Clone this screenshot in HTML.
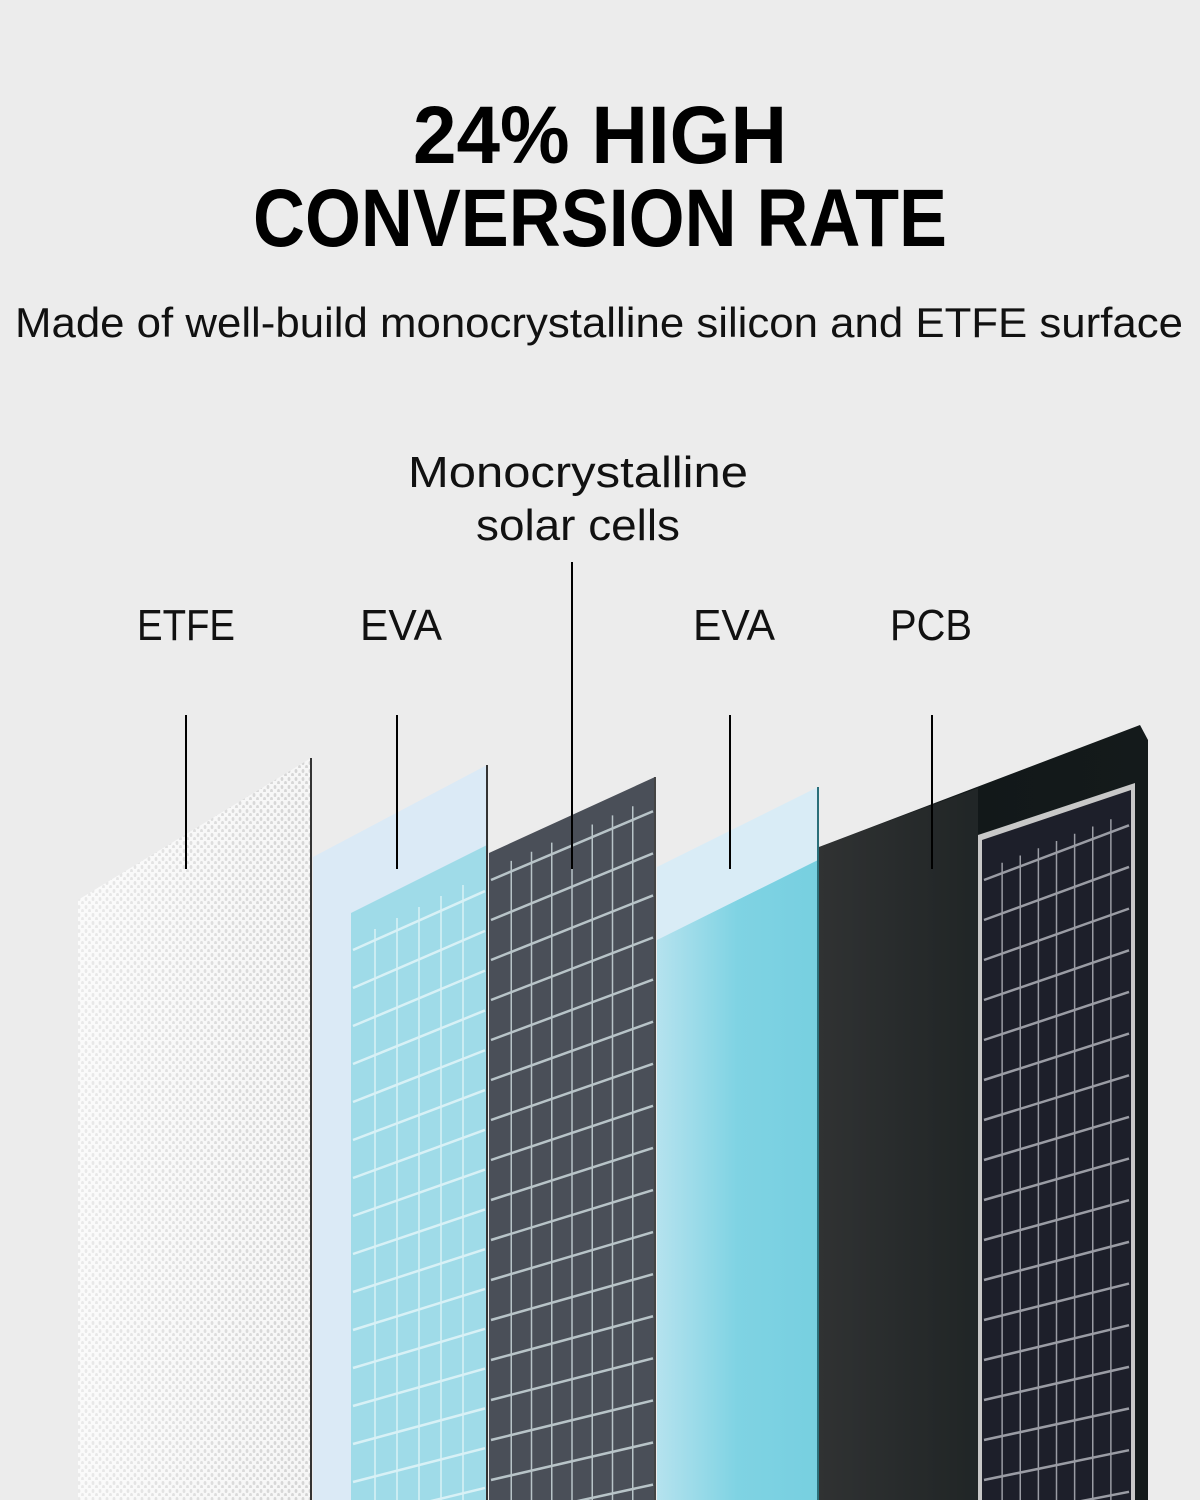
<!DOCTYPE html>
<html><head><meta charset="utf-8"><style>
html,body{margin:0;padding:0;background:#ececec;}
svg{display:block;}
</style></head><body>
<svg id="s" width="1200" height="1500" viewBox="0 0 1200 1500" xmlns="http://www.w3.org/2000/svg">
<defs>
<pattern id="dots" width="7" height="8" patternUnits="userSpaceOnUse">
<rect width="7" height="8" fill="#f6f6f6"/>
<ellipse cx="2" cy="3" rx="1.4" ry="2" fill="#d4d4d4"/>
<ellipse cx="5.5" cy="7" rx="1.4" ry="2" fill="#d4d4d4"/>
</pattern>
<linearGradient id="eva2" x1="0" x2="1" y1="0" y2="0">
<stop offset="0" stop-color="#b5e2ee"/><stop offset="0.5" stop-color="#7fd3e3"/><stop offset="1" stop-color="#77cfe0"/>
</linearGradient>
<linearGradient id="pcb" x1="0" x2="1">
<stop offset="0" stop-color="#2a2c2d"/><stop offset="0.45" stop-color="#121819"/><stop offset="1" stop-color="#141a1b"/>
</linearGradient>
<linearGradient id="whiteg" x1="0" x2="1">
<stop offset="0" stop-color="#ffffff" stop-opacity="0.5"/><stop offset="1" stop-color="#ffffff" stop-opacity="0"/>
</linearGradient>
</defs>
<rect width="1200" height="1500" fill="#ececec"/>

<g font-family="Liberation Sans, sans-serif" fill="#000">
<text x="600" y="163" font-size="82" font-weight="bold" text-anchor="middle" textLength="374" lengthAdjust="spacingAndGlyphs">24% HIGH</text>
<text x="600" y="246" font-size="82" font-weight="bold" text-anchor="middle" textLength="694" lengthAdjust="spacingAndGlyphs">CONVERSION RATE</text>
<text x="15" y="337" font-size="42" fill="#111" textLength="1168" lengthAdjust="spacingAndGlyphs">Made of well-build monocrystalline silicon and ETFE surface</text>
<text x="408" y="487" font-size="44" fill="#111" textLength="340" lengthAdjust="spacingAndGlyphs">Monocrystalline</text>
<text x="476" y="540" font-size="44" fill="#111" textLength="204" lengthAdjust="spacingAndGlyphs">solar cells</text>
<text x="137" y="640" font-size="44" fill="#111" textLength="98" lengthAdjust="spacingAndGlyphs">ETFE</text>
<text x="360" y="640" font-size="44" fill="#111" textLength="82" lengthAdjust="spacingAndGlyphs">EVA</text>
<text x="693" y="640" font-size="44" fill="#111" textLength="82" lengthAdjust="spacingAndGlyphs">EVA</text>
<text x="890" y="640" font-size="44" fill="#111" textLength="82" lengthAdjust="spacingAndGlyphs">PCB</text>
</g>

<!-- ETFE -->
<polygon points="78,900 311,758 311,1500 78,1500" fill="url(#dots)"/>
<polygon points="78,900 311,758 311,1500 78,1500" fill="url(#whiteg)"/>
<line x1="311" y1="758" x2="311" y2="1500" stroke="#333" stroke-width="2"/>
<!-- EVA 1 -->
<polygon points="313,857 487,765 487,1500 313,1500" fill="#dbeaf6"/>
<polygon points="351,913 487,845 487,1500 351,1500" fill="#9fdbe8"/>
<g id="g1"></g>
<line x1="487" y1="765" x2="487" y2="1500" stroke="#333" stroke-width="2"/>
<!-- Mono -->
<polygon points="489,853 655,777 655,1500 489,1500" fill="#4a4f58"/>
<g id="g2"></g>
<line x1="655" y1="777" x2="655" y2="1500" stroke="#444" stroke-width="2"/>
<!-- EVA 2 -->
<polygon points="657,867 818,787 818,1500 657,1500" fill="#d9ecf6"/>
<polygon points="657,940 818,860 818,1500 657,1500" fill="url(#eva2)"/>
<line x1="818" y1="787" x2="818" y2="1500" stroke="#2a6f7a" stroke-width="2"/>
<!-- PCB -->
<polygon points="819,847 1140,725 1148,740 1148,1500 819,1500" fill="url(#pcb)"/>
<polygon points="819,847 978,788 978,1500 819,1500" fill="#3a3c3d" opacity="0.4"/>
<polygon points="978,835 1135,783 1135,1500 978,1500" fill="#c8c8c8"/>
<polygon points="982,840 1131,790 1131,1500 982,1500" fill="#1d1f2a"/>
<g id="g3"></g>

<!-- leader lines -->
<g stroke="#000" stroke-width="2">
<line x1="186" y1="715" x2="186" y2="869"/>
<line x1="397" y1="715" x2="397" y2="869"/>
<line x1="572" y1="562" x2="572" y2="869"/>
<line x1="730" y1="715" x2="730" y2="869"/>
<line x1="932" y1="715" x2="932" y2="869"/>
</g>
</svg>
<script>
(function(){
var NS="http://www.w3.org/2000/svg";
function grid(id,x0,x1,ytop,slope,cols,color,w,sp){
  var g=document.getElementById(id);
  for(var y=ytop;y<1560;y+=sp){
    var l=document.createElementNS(NS,"line");
    var s=slope*Math.max(0.45,1-(y-800)/1400);
    l.setAttribute("x1",x0);l.setAttribute("y1",y);
    l.setAttribute("x2",x1);l.setAttribute("y2",y+s*(x1-x0));
    l.setAttribute("stroke",color);l.setAttribute("stroke-width",w);g.appendChild(l);
  }
  for(var i=1;i<cols;i++){
    var x=x0+(x1-x0)*i/cols;
    var yt=ytop+slope*(x-x0)-10;
    var l=document.createElementNS(NS,"line");
    l.setAttribute("x1",x);l.setAttribute("y1",yt);l.setAttribute("x2",x);l.setAttribute("y2",1500);
    l.setAttribute("stroke",color);l.setAttribute("stroke-width",w*0.6);g.appendChild(l);
  }
}
grid("g1",353,485,950,-0.5,6,"#d8f1f6",2.5,38);
grid("g2",491,653,880,-0.45,8,"#b8c4c8",2.5,40);
grid("g3",984,1129,880,-0.4,8,"#9a9ca4",2.5,40);
})();
</script>
</body></html>
